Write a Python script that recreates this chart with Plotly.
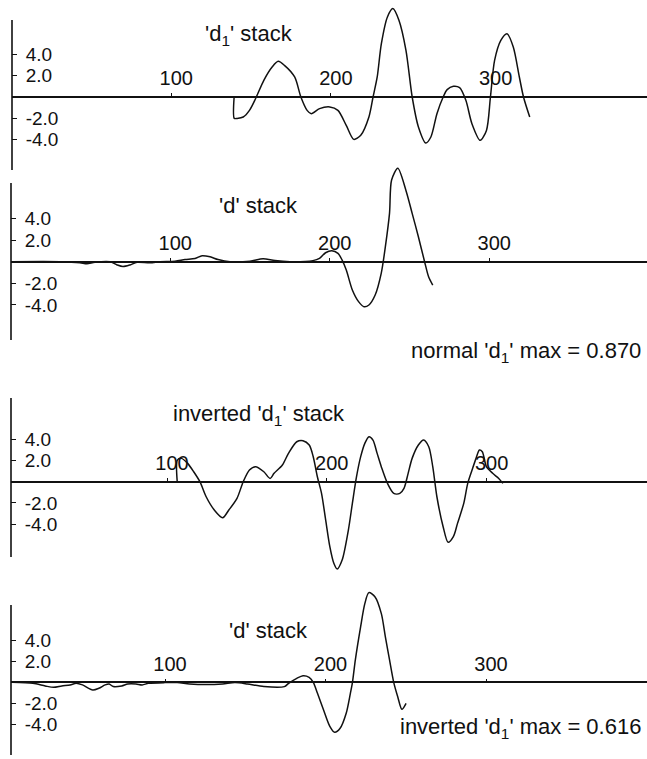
import plotly.graph_objects as go

# ---------------- data ----------------
P1_x = [139.4, 139.5, 141.2, 145.1, 149.0, 152.8, 158.0, 163.2, 167.0, 170.9, 177.3, 181.2, 185.1, 187.7,
        192.9, 199.3, 204.4, 209.6, 214.3, 218.7, 223.8, 226.4, 229.0, 231.6, 235.4, 238.8, 242.6, 247.0,
        250.9, 254.8, 259.4, 262.6, 266.4, 270.3, 272.8, 276.7, 280.6, 284.5, 288.3, 293.5, 297.4, 299.9,
        302.5, 306.4, 310.3, 314.2, 318.0, 320.6, 324.5]
P1_y = [0, -2.0, -2.0, -1.87, -1.25, -0.16, 1.56, 2.80, 3.33, 2.96, 1.87, 0, -1.25, -1.56,
        -1.09, -0.93, -1.25, -2.65, -3.96, -3.58, -1.87, 0, 1.87, 4.98, 7.48, 8.26, 7.17, 4.36,
        0, -2.80, -4.30, -3.74, -1.56, 0, 0.69, 1.0, 0.87, -0.31, -2.49, -4.05, -3.12, 0,
        3.43, 5.30, 5.92, 4.67, 1.87, 0, -1.87]

P2_x = [0.8, 31, 43.4, 47.8, 52.8, 62.3, 66.7, 70.4, 74.8, 79.2, 87.3, 93.6, 103, 109.3, 115.6,
        120, 125, 130, 137.5, 150, 158.2, 165.7, 175.1, 189.5, 193.6, 197.4, 201.3, 205.2, 207.8,
        210.4, 214.2, 218.1, 221.5, 224.6, 228.5, 232.3, 234.9, 237.5, 238.8, 242.7, 247.8, 251.7,
        255.6, 259.5, 262, 264.6]
P2_y = [0, 0, -0.1, -0.2, -0.05, 0, -0.3, -0.45, -0.3, -0.05, -0.1, 0, 0.05, 0.2, 0.3,
        0.55, 0.45, 0.2, 0, 0.05, 0.28, 0.1, 0, 0.1, 0.31, 0.83, 1.02, 0.77, 0.15,
        -0.77, -2.62, -3.70, -4.17, -4.01, -3.09, -1.08, 1.39, 4.47, 7.56, 8.65, 6.6, 4.48,
        2.31, 0, -1.39, -2.16]

P3_x = [106.4, 106.5, 109.0, 112.9, 116.7, 120.6, 124.5, 129.6, 134.8, 138.7, 143.8, 147.7, 151.6,
        155.4, 160.6, 164.5, 167.0, 172.2, 176.0, 181.2, 185.1, 189.0, 191.5, 194.1, 196.7, 199.3,
        201.9, 204.4, 206.5, 209.6, 213.5, 216.0, 218.6, 221.2, 223.8, 226.4, 228.9, 231.5, 234.1,
        238.0, 241.9, 245.7, 248.3, 250.9, 253.4, 257.3, 260.6, 263.8, 266.3, 268.9, 272.8, 275.9,
        279.2, 281.8, 285.7, 288.2, 290.9, 293.4, 295.5, 297.3, 299.9, 303.8, 307.6, 310.2]
P3_y = [0, 2.04, 2.20, 1.73, 0.94, 0, -1.42, -2.67, -3.40, -2.67, -1.57, 0, 1.10,
        1.42, 0.94, 0.31, 0.79, 1.57, 2.67, 3.77, 3.87, 3.46, 2.36, 0.47, -1.10, -3.62,
        -6.13, -7.70, -8.24, -7.39, -4.56, -2.04, 0.47, 2.36, 3.62, 4.25, 3.93, 2.67, 1.42,
        -0.16, -1.10, -1.10, -0.63, 0.79, 2.20, 3.46, 3.93, 3.30, 1.42, -1.42, -4.25, -5.72,
        -5.19, -3.93, -2.04, -0.16, 1.10, 2.20, 2.99, 2.83, 1.42, 0.79, 0.31, -0.16]

P4_x = [4.9, 17.7, 25.4, 30.6, 35.7, 40.9, 44.7, 48.6, 55.0, 58.8, 62.7, 65.2, 67.8, 73.0, 76.8,
        81.9, 85.8, 89.7, 99.9, 107.6, 115.3, 125.6, 135.9, 143.6, 151.3, 161.6, 174.4, 177.0,
        182.1, 186.0, 189.8, 192.4, 195.0, 198.8, 202.7, 205.7, 209.1, 212.9, 215.5, 216.8,
        218.6, 221.9, 224.5, 227.0, 230.9, 234.8, 237.3, 239.9, 242.5, 245.0, 247.6, 250.2]
P4_y = [0, -0.1, -0.35, -0.48, -0.35, -0.25, -0.1, -0.25, -0.73, -0.57, -0.25, -0.16, -0.41, -0.35, -0.16,
        -0.16, -0.25, -0.1, -0.03, -0.03, -0.16, -0.22, -0.16, -0.03, -0.16, -0.41, -0.41, -0.1,
        0.38, 0.63, 0.48, 0, -1.05, -2.63, -4.19, -4.76, -4.38, -2.95, -1.05, 0,
        2.13, 5.3, 7.49, 8.54, 8.13, 6.54, 4.32, 2.13, 0, -1.37, -2.57, -2.0]

X_TICKS = [100, 200, 300]
X_TICK_LABELS = ["100", "200", "300"]
Y_TICKS = [-4, -2, 2, 4]
Y_TICK_LABELS = ["-4.0", "-2.0", "2.0", "4.0"]

TITLES = ["'d<sub>1</sub>' stack", "'d' stack", "inverted 'd<sub>1</sub>' stack", "'d' stack"]
NOTES = ["normal 'd<sub>1</sub>' max = 0.870", "inverted 'd<sub>1</sub>' max = 0.616"]

# ---------------- layout geometry (pixels) ----------------
W, H = 647, 759
FONT = "Liberation Sans, Arial, sans-serif"
INK = "#111111"
PAD = "\u2002"

panels = [
    dict(x=P1_x, y=P1_y, ax=12, ox=11.5, sx=1.597, zero=97.0, sy=10.7, top=0, bot=190, at=20, ab=170,
         title=TITLES[0], tx=249, ty=35),
    dict(x=P2_x, y=P2_y, ax=11, ox=10.7, sx=1.595, zero=261.7, sy=10.8, top=160, bot=350, at=183, ab=340,
         title=TITLES[1], tx=258.6, ty=205),
    dict(x=P3_x, y=P3_y, ax=11, ox=7.2, sx=1.598, zero=481.7, sy=10.6, top=385, bot=580, at=398, ab=557,
         title=TITLES[2], tx=258.7, ty=415),
    dict(x=P4_x, y=P4_y, ax=11, ox=4.5, sx=1.605, zero=682.3, sy=10.5, top=585, bot=759, at=605, ab=755,
         title=TITLES[3], tx=268, ty=630),
]

fig = go.Figure()
layout = dict(
    width=W, height=H, margin=dict(l=0, r=0, t=0, b=0),
    paper_bgcolor="white", plot_bgcolor="rgba(0,0,0,0)",
    showlegend=False, font=dict(family=FONT, color=INK),
)
shapes = []
annotations = []

for i, p in enumerate(panels, start=1):
    xa = "x" if i == 1 else f"x{i}"
    ya = "y" if i == 1 else f"y{i}"
    xkey = "xaxis" if i == 1 else f"xaxis{i}"
    ykey = "yaxis" if i == 1 else f"yaxis{i}"

    fig.add_trace(go.Scatter(
        x=p["x"], y=p["y"], xaxis=xa, yaxis=ya, mode="lines",
        line=dict(color=INK, width=1.5, shape="spline", smoothing=0.8),
        hoverinfo="skip",
    ))

    x_lo = (p["ax"] - p["ox"]) / p["sx"]
    x_hi = (W - p["ox"]) / p["sx"]
    y_hi = (p["zero"] - p["top"]) / p["sy"]
    y_lo = -(p["bot"] - p["zero"]) / p["sy"]

    layout[xkey] = dict(
        domain=[p["ax"] / W, 1], range=[x_lo, x_hi], anchor="free",
        position=1 - p["zero"] / H, side="top",
        showline=True, linecolor=INK, linewidth=1.6,
        ticks="outside", ticklen=3, tickwidth=1.2, tickcolor=INK,
        tickvals=X_TICKS, ticktext=X_TICK_LABELS, ticklabelshift=5,
        tickfont=dict(size=20, family=FONT, color=INK),
        showgrid=False, zeroline=False, fixedrange=True,
    )
    layout[ykey] = dict(
        domain=[1 - p["bot"] / H, 1 - p["top"] / H], range=[y_lo, y_hi], anchor=xa,
        showline=False, ticks="inside", ticklen=5, tickwidth=1.2, tickcolor=INK,
        ticklabelposition="inside",
        tickvals=Y_TICKS, ticktext=[PAD + t for t in Y_TICK_LABELS],
        tickfont=dict(size=19, family=FONT, color=INK),
        showgrid=False, zeroline=False, fixedrange=True,
    )
    shapes.append(dict(
        type="line", xref=f"{xa} domain", yref=ya, x0=0, x1=0,
        y0=-(p["ab"] - p["zero"]) / p["sy"], y1=(p["zero"] - p["at"]) / p["sy"],
        line=dict(color=INK, width=1.6),
    ))
    annotations.append(dict(
        text=p["title"], xref="paper", yref="paper", x=p["tx"] / W, y=1 - p["ty"] / H,
        xanchor="center", yanchor="middle", showarrow=False,
        font=dict(size=22, family=FONT, color=INK),
    ))

for note, ny in zip(NOTES, [352, 728]):
    annotations.append(dict(
        text=note, xref="paper", yref="paper", x=643 / W, y=1 - ny / H,
        xanchor="right", yanchor="middle", showarrow=False,
        font=dict(size=22, family=FONT, color=INK),
    ))

layout["shapes"] = shapes
layout["annotations"] = annotations
fig.update_layout(**layout)
fig.write_html("out.html")
